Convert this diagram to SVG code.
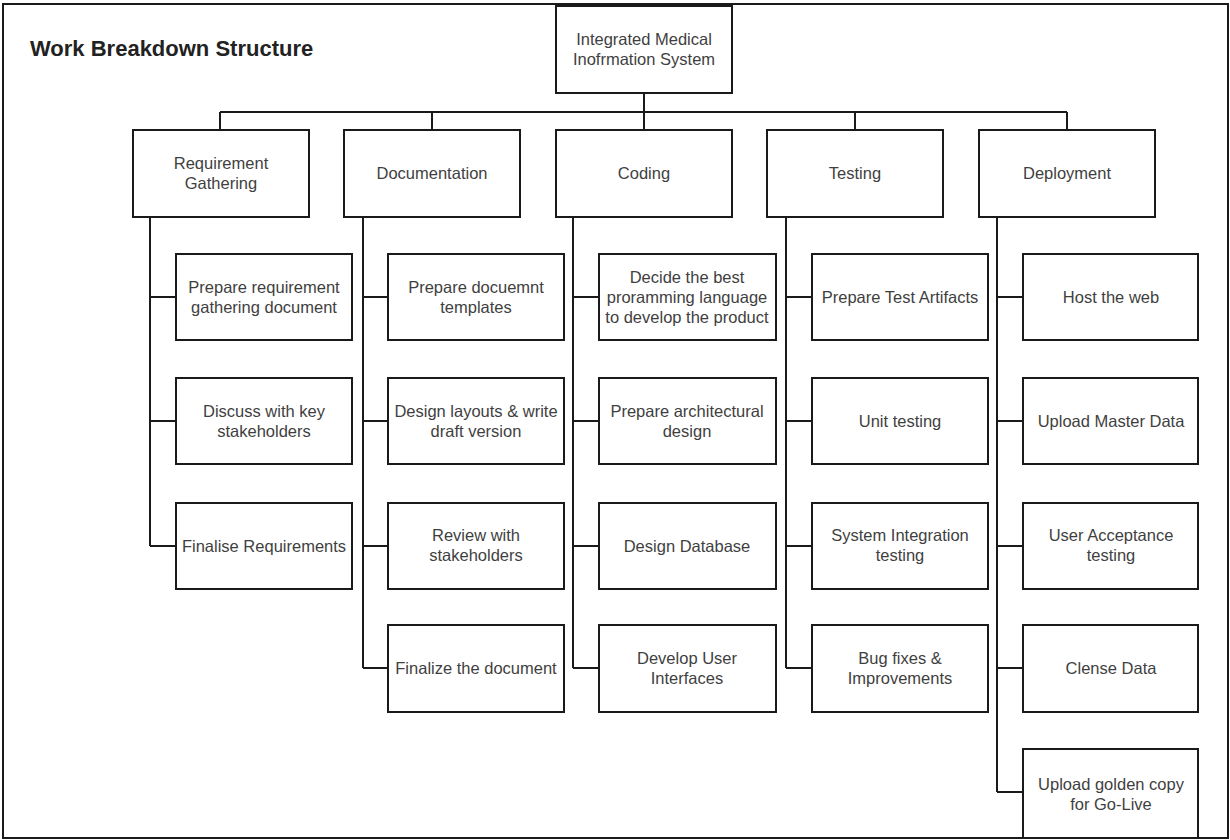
<svg xmlns="http://www.w3.org/2000/svg" width="1230" height="840" viewBox="0 0 1230 840">
  <style>
    .frame { fill: #ffffff; stroke: #1a1a1a; stroke-width: 2; }
    .box { fill: #ffffff; stroke: #1a1a1a; stroke-width: 2; }
    .wire { fill: none; stroke: #1a1a1a; stroke-width: 2; }
    .lbl { font-family: "Liberation Sans", Arial, sans-serif; font-size: 16.5px; fill: #3f3f3f; text-anchor: middle; dominant-baseline: central; }
    .title { font-family: "Liberation Sans", Arial, sans-serif; font-size: 22px; font-weight: bold; fill: #222222; }
  </style>

  <rect class="frame" x="3" y="4" width="1225" height="834"/>
  <text class="title" x="30" y="56">Work Breakdown Structure</text>

  <!-- tree connectors -->
  <g id="connectors">
    <path class="wire" d="M644 93V112 M220 112H1067 M220 112V130 M432 112V130 M644 112V130 M855 112V130 M1067 112V130"/>
    <!-- Requirement Gathering trunk -->
    <path class="wire" d="M150 217V546 M150 297H176 M150 421H176 M150 546H176"/>
    <!-- Documentation trunk -->
    <path class="wire" d="M363 217V668 M363 297H388 M363 421H388 M363 546H388 M363 668H388"/>
    <!-- Coding trunk -->
    <path class="wire" d="M573 217V668 M573 297H599 M573 421H599 M573 546H599 M573 668H599"/>
    <!-- Testing trunk -->
    <path class="wire" d="M786 217V668 M786 297H812 M786 421H812 M786 546H812 M786 668H812"/>
    <!-- Deployment trunk -->
    <path class="wire" d="M997 217V792 M997 297H1023 M997 421H1023 M997 546H1023 M997 668H1023 M997 792H1023"/>
  </g>

  <!-- root -->
  <g id="root">
    <rect class="box" x="556" y="6" width="176" height="87"/>
    <text class="lbl" x="644" y="39">Integrated Medical</text>
    <text class="lbl" x="644" y="59">Inofrmation System</text>
  </g>

  <!-- level 1 -->
  <g id="req">
    <rect class="box" x="133" y="130" width="176" height="87"/>
    <text class="lbl" x="221" y="163">Requirement</text>
    <text class="lbl" x="221" y="183">Gathering</text>
  </g>
  <g id="doc">
    <rect class="box" x="344" y="130" width="176" height="87"/>
    <text class="lbl" x="432" y="173">Documentation</text>
  </g>
  <g id="coding">
    <rect class="box" x="556" y="130" width="176" height="87"/>
    <text class="lbl" x="644" y="173">Coding</text>
  </g>
  <g id="testing">
    <rect class="box" x="767" y="130" width="176" height="87"/>
    <text class="lbl" x="855" y="173">Testing</text>
  </g>
  <g id="deploy">
    <rect class="box" x="979" y="130" width="176" height="87"/>
    <text class="lbl" x="1067" y="173">Deployment</text>
  </g>

  <!-- Requirement Gathering tasks -->
  <g id="req-1">
    <rect class="box" x="176" y="254" width="176" height="86"/>
    <text class="lbl" x="264" y="287">Prepare requirement</text>
    <text class="lbl" x="264" y="307">gathering document</text>
  </g>
  <g id="req-2">
    <rect class="box" x="176" y="378" width="176" height="86"/>
    <text class="lbl" x="264" y="411">Discuss with key</text>
    <text class="lbl" x="264" y="431">stakeholders</text>
  </g>
  <g id="req-3">
    <rect class="box" x="176" y="503" width="176" height="86"/>
    <text class="lbl" x="264" y="546">Finalise Requirements</text>
  </g>

  <!-- Documentation tasks -->
  <g id="doc-1">
    <rect class="box" x="388" y="254" width="176" height="86"/>
    <text class="lbl" x="476" y="287">Prepare docuemnt</text>
    <text class="lbl" x="476" y="307">templates</text>
  </g>
  <g id="doc-2">
    <rect class="box" x="388" y="378" width="176" height="86"/>
    <text class="lbl" x="476" y="411">Design layouts &amp; write</text>
    <text class="lbl" x="476" y="431">draft version</text>
  </g>
  <g id="doc-3">
    <rect class="box" x="388" y="503" width="176" height="86"/>
    <text class="lbl" x="476" y="535">Review with</text>
    <text class="lbl" x="476" y="555">stakeholders</text>
  </g>
  <g id="doc-4">
    <rect class="box" x="388" y="625" width="176" height="87"/>
    <text class="lbl" x="476" y="668">Finalize the document</text>
  </g>

  <!-- Coding tasks -->
  <g id="code-1">
    <rect class="box" x="599" y="254" width="177" height="86"/>
    <text class="lbl" x="687" y="277">Decide the best</text>
    <text class="lbl" x="687" y="297">proramming language</text>
    <text class="lbl" x="687" y="317">to develop the product</text>
  </g>
  <g id="code-2">
    <rect class="box" x="599" y="378" width="177" height="86"/>
    <text class="lbl" x="687" y="411">Prepare architectural</text>
    <text class="lbl" x="687" y="431">design</text>
  </g>
  <g id="code-3">
    <rect class="box" x="599" y="503" width="177" height="86"/>
    <text class="lbl" x="687" y="546">Design Database</text>
  </g>
  <g id="code-4">
    <rect class="box" x="599" y="625" width="177" height="87"/>
    <text class="lbl" x="687" y="658">Develop User</text>
    <text class="lbl" x="687" y="678">Interfaces</text>
  </g>

  <!-- Testing tasks -->
  <g id="test-1">
    <rect class="box" x="812" y="254" width="176" height="86"/>
    <text class="lbl" x="900" y="297">Prepare Test Artifacts</text>
  </g>
  <g id="test-2">
    <rect class="box" x="812" y="378" width="176" height="86"/>
    <text class="lbl" x="900" y="421">Unit testing</text>
  </g>
  <g id="test-3">
    <rect class="box" x="812" y="503" width="176" height="86"/>
    <text class="lbl" x="900" y="535">System Integration</text>
    <text class="lbl" x="900" y="555">testing</text>
  </g>
  <g id="test-4">
    <rect class="box" x="812" y="625" width="176" height="87"/>
    <text class="lbl" x="900" y="658">Bug fixes &amp;</text>
    <text class="lbl" x="900" y="678">Improvements</text>
  </g>

  <!-- Deployment tasks -->
  <g id="dep-1">
    <rect class="box" x="1023" y="254" width="175" height="86"/>
    <text class="lbl" x="1111" y="297">Host the web</text>
  </g>
  <g id="dep-2">
    <rect class="box" x="1023" y="378" width="175" height="86"/>
    <text class="lbl" x="1111" y="421">Upload Master Data</text>
  </g>
  <g id="dep-3">
    <rect class="box" x="1023" y="503" width="175" height="86"/>
    <text class="lbl" x="1111" y="535">User Acceptance</text>
    <text class="lbl" x="1111" y="555">testing</text>
  </g>
  <g id="dep-4">
    <rect class="box" x="1023" y="625" width="175" height="87"/>
    <text class="lbl" x="1111" y="668">Clense Data</text>
  </g>
  <g id="dep-5">
    <rect class="box" x="1023" y="749" width="175" height="89"/>
    <text class="lbl" x="1111" y="784">Upload golden copy</text>
    <text class="lbl" x="1111" y="804">for Go-Live</text>
  </g>
</svg>
